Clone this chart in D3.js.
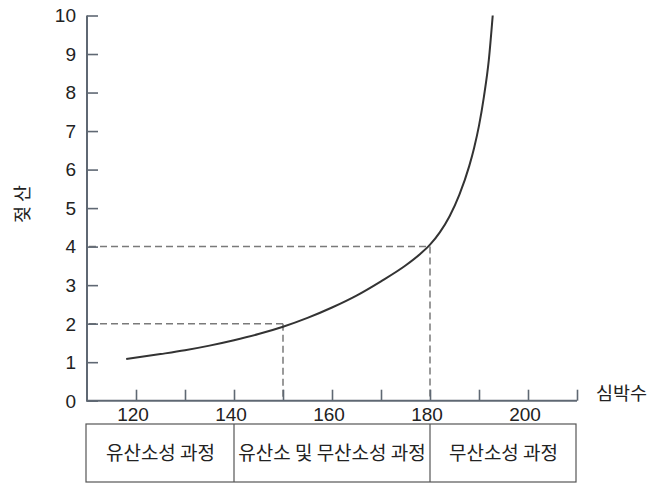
<!DOCTYPE html>
<html><head><meta charset="utf-8">
<script src="https://cdn.jsdelivr.net/npm/d3@7"></script>
<style>
html,body{margin:0;padding:0;background:#fff;}
svg text{font-family:"Liberation Sans",Arial,sans-serif;}
.kr{font-family:"Noto Sans CJK KR","Noto Sans",sans-serif;}
</style></head>
<body><svg id="c" width="659" height="486"></svg>
<script>
const heartRate = [118,125,130,135,140,145,150,155,160,165,170,175,178,180,182,184,186,188,189,190,191,192,192.8];
const lactate   = [1.08,1.21,1.31,1.43,1.57,1.73,1.92,2.15,2.42,2.73,3.10,3.51,3.81,4.05,4.37,4.79,5.35,6.09,6.56,7.14,7.89,8.84,10.0];
const yTicks = [0,1,2,3,4,5,6,7,8,9,10];
const xTicksMinor = [120,130,140,150,160,170,180,190,200,210];
const xTickLabels = [120,140,160,180,200];
const refPoints = [{x:150,y:2},{x:180,y:4}];
const phaseBounds = [110,140,180,210];
const phaseLabels = ["유산소성 과정","유산소 및 무산소성 과정","무산소성 과정"];
const yLabel = "젖 산";
const xLabel = "심박수";

const svg = d3.select("#c");
const x = d3.scaleLinear().domain([110,210]).range([87,577]);
const y = d3.scaleLinear().domain([0,10]).range([400.7,15.5]);
const axisColor = "#5f6873";

// dashed reference lines
refPoints.forEach(p=>{
  svg.append("line").attr("x1",x(110)+2).attr("x2",x(p.x)).attr("y1",y(p.y)).attr("y2",y(p.y))
    .attr("stroke","#7a7a7a").attr("stroke-width",1.5).attr("stroke-dasharray","7,4");
  svg.append("line").attr("x1",x(p.x)).attr("x2",x(p.x)).attr("y1",y(p.y)).attr("y2",y(0))
    .attr("stroke","#7a7a7a").attr("stroke-width",1.5).attr("stroke-dasharray","7,4");
});

// y axis
const yAxis = d3.axisRight(y).tickValues(yTicks).tickSize(11).tickFormat("");
const gy = svg.append("g").attr("transform",`translate(${x(110)},0)`).call(yAxis);
gy.select(".domain").remove();
gy.selectAll("line").attr("stroke",axisColor).attr("stroke-width",1.6);
svg.append("line").attr("x1",x(110)).attr("x2",x(110)).attr("y1",y(10)).attr("y2",y(0)+1)
  .attr("stroke",axisColor).attr("stroke-width",2);
svg.selectAll(".ylab").data(yTicks).enter().append("text")
  .attr("x",76).attr("y",d=>y(d)).attr("dy","0.36em").attr("text-anchor","end")
  .attr("font-size",19).attr("fill","#222").text(d=>d);

// x axis
const xAxis = d3.axisTop(x).tickValues(xTicksMinor).tickSize(11).tickFormat("");
const gx = svg.append("g").attr("transform",`translate(0,${y(0)})`).call(xAxis);
gx.select(".domain").remove();
gx.selectAll("line").attr("stroke",axisColor).attr("stroke-width",1.6);
svg.append("line").attr("x1",x(110)).attr("x2",x(210)).attr("y1",y(0)).attr("y2",y(0))
  .attr("stroke",axisColor).attr("stroke-width",2);
svg.selectAll(".xlab").data(xTickLabels).enter().append("text")
  .attr("x",d=>x(d)-3).attr("y",420.5).attr("text-anchor","middle")
  .attr("font-size",19).attr("fill","#222").text(d=>d);

// axis titles
svg.append("text").attr("class","kr").attr("x",596).attr("y",400).attr("font-size",18.5)
  .attr("fill","#222").text(xLabel);
svg.append("text").attr("class","kr").attr("transform","translate(29,204) rotate(-90)")
  .attr("text-anchor","middle").attr("font-size",18.5).attr("fill","#222").text(yLabel);

// curve
const data = heartRate.map((h,i)=>({h, l:lactate[i]}));
svg.append("path").datum(data)
  .attr("d", d3.line().x(d=>x(d.h)).y(d=>y(d.l)).curve(d3.curveMonotoneX))
  .attr("fill","none").attr("stroke","#333").attr("stroke-width",2);

// phase table
const tTop = 424, tBot = 482;
svg.append("rect").attr("x",x(phaseBounds[0])-1).attr("y",tTop)
  .attr("width",x(phaseBounds[3])-x(phaseBounds[0])).attr("height",tBot-tTop)
  .attr("fill","none").attr("stroke","#555").attr("stroke-width",1.2);
phaseBounds.slice(1,3).forEach(b=>{
  svg.append("line").attr("x1",x(b)).attr("x2",x(b)).attr("y1",tTop).attr("y2",tBot)
    .attr("stroke","#555").attr("stroke-width",1.2);
});
svg.selectAll(".ph").data(phaseLabels).enter().append("text").attr("class","kr")
  .attr("x",(d,i)=>(x(phaseBounds[i])+x(phaseBounds[i+1]))/2)
  .attr("y",(tTop+tBot)/2).attr("dy","0.36em").attr("text-anchor","middle")
  .attr("font-size",19).attr("fill","#222").text(d=>d);
</script></body></html>
